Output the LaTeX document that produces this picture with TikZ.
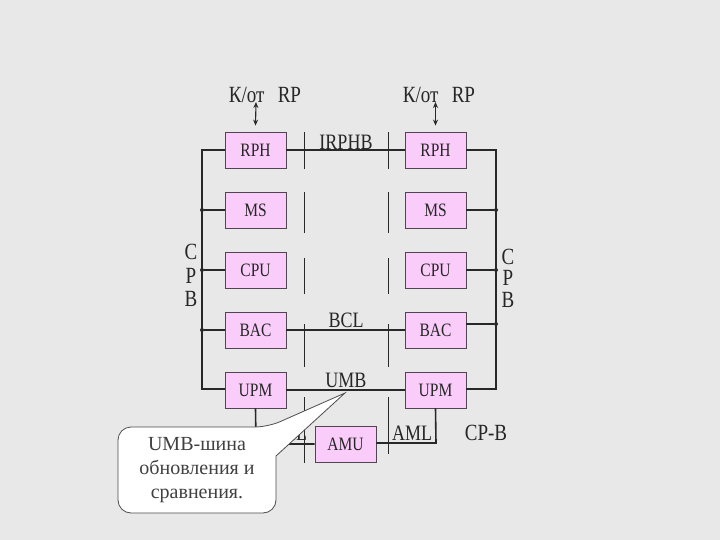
\documentclass[tikz,border=0pt]{standalone}
\usepackage{fontspec}
\usepackage{graphicx}
\setmainfont{Liberation Serif}
\usetikzlibrary{arrows.meta}
\definecolor{bg}{RGB}{232,232,232}
\definecolor{boxpink}{RGB}{250,204,250}
\definecolor{boxline}{RGB}{80,70,80}
\definecolor{busline}{RGB}{40,40,40}
\newcommand{\vtall}[1]{\scalebox{1}[1.22]{#1}}
\begin{document}
\begin{tikzpicture}[x=1pt,y=-1pt,
  unit/.style={draw=boxline, line width=0.8pt, fill=boxpink, minimum width=61pt, minimum height=36pt, inner sep=0pt, font=\fontsize{15.5}{17}\selectfont, text=black!85},
  bus/.style={draw=busline, line width=1.6pt},
  sep/.style={draw=busline, line width=0.9pt},
  lbl/.style={font=\fontsize{18}{20}\selectfont, text=black!85, inner sep=0pt},
  big/.style={font=\fontsize{19}{21}\selectfont, text=black!85, inner sep=0pt},
  note/.style={font=\fontsize{20}{22}\selectfont, text=black!75, inner sep=0pt},
  jdot/.style={circle, fill=busline, inner sep=0pt, minimum size=4pt},
  callout/.style={draw=black!70, line width=0.8pt, fill=white},
  dblarrow/.style={line width=1.1pt, busline, {Stealth[length=6pt,width=5pt]}-{Stealth[length=6pt,width=5pt]}}
]
\fill[bg] (0,0) rectangle (720,540);
\useasboundingbox (0,0) rectangle (720,540);

% units
\node[unit] (rph1) at (255.5,150) {\vtall{RPH}};
\node[unit] (ms1)  at (255.5,210) {\vtall{MS}};
\node[unit] (cpu1) at (255.5,270) {\vtall{CPU}};
\node[unit] (bac1) at (255.5,330) {\vtall{BAC}};
\node[unit] (upm1) at (255.5,390) {\vtall{UPM}};
\node[unit] (rph2) at (435.5,150) {\vtall{RPH}};
\node[unit] (ms2)  at (435.5,210) {\vtall{MS}};
\node[unit] (cpu2) at (435.5,270) {\vtall{CPU}};
\node[unit] (bac2) at (435.5,330) {\vtall{BAC}};
\node[unit] (upm2) at (435.5,390) {\vtall{UPM}};
\node[unit] (amu)  at (345.5,444) {\vtall{AMU}};

% bus corners and junctions
\coordinate (lt) at (202,150);
\coordinate (lb) at (202,389);
\coordinate (rt) at (496,150);
\coordinate (rb) at (496,389);
\node[jdot] (jl1) at (202,210) {};
\node[jdot] (jl2) at (202,270) {};
\node[jdot] (jl3) at (202,330) {};
\node[jdot] (jr1) at (496,210) {};
\node[jdot] (jr2) at (496,270) {};
\node[jdot] (jr3) at (496,324) {};
\coordinate (al) at (256,444);
\coordinate (ar) at (436,443);

% separators
\foreach \x in {304,388}{
  \draw[sep] (\x,132) -- (\x,169);
  \draw[sep] (\x,192) -- (\x,233);
  \draw[sep] (\x,258) -- (\x,294);
  \draw[sep] (\x,324) -- (\x,367);
}
\draw[sep] (304,397) -- (304,463);
\draw[sep] (388,397) -- (388,454);

% buses
\draw[bus] (rph1.west) -- (lt) -- (lb) -- (upm1.west |- lb);
\draw[bus] (rph2.east) -- (rt) -- (rb) -- (upm2.east |- rb);
\draw[bus] (jl1) -- (ms1.west);
\draw[bus] (jl2) -- (cpu1.west);
\draw[bus] (jl3) -- (bac1.west);
\draw[bus] (jr1) -- (ms2.east);
\draw[bus] (jr2) -- (cpu2.east);
\draw[bus] (jr3) -- (bac2.east |- jr3);
\draw[bus] (rph1.east) -- (rph2.west);
\draw[bus] (bac1.east) -- (bac2.west);
\draw[bus] (upm1.east) -- (upm2.west);
\draw[bus] (upm1.south) -- (al) -- (amu.west |- al);
\draw[bus] (upm2.south) -- (ar) -- (amu.east |- ar);

% top links
\coordinate (k1) at (256,102);
\coordinate (k2) at (435.5,102);
\draw[dblarrow] (k1) -- ([yshift=6pt]rph1.north);
\draw[dblarrow] (k2) -- ([yshift=6pt]rph2.north);

% labels
\node[big] (t1) at (265,95) {\vtall{К/от\hspace{0.7em}RP}};
\node[big] (t2) at (439,95) {\vtall{К/от\hspace{0.7em}RP}};
\node[lbl] (irphb) at (346,142) {\vtall{IRPHB}};
\node[lbl] (bcl) at (346,320) {\vtall{BCL}};
\node[lbl] (umb) at (346,380) {\vtall{UMB}};
\node[lbl] (aml1) at (287,433) {\vtall{AML}};
\node[lbl] (aml2) at (412,433) {\vtall{AML}};
\node[big] (cpb) at (486,433) {\vtall{CP-B}};
\node[big] (cl) at (191,252) {\vtall{C}};
\node[big] (pl) at (191,276) {\vtall{P}};
\node[big] (bl) at (191,299) {\vtall{B}};
\node[big] (cr) at (508,257) {\vtall{C}};
\node[big] (pr) at (508,278) {\vtall{P}};
\node[big] (br) at (508,300) {\vtall{B}};

% callout
\coordinate (tip) at (345,393);
\draw[callout] (276,456) [rounded corners=13pt] -- (276,513) -- (118,513) -- (118,427) -- (268,427) [sharp corners] -- (tip) -- cycle;
\node[note, anchor=base] (n1) at (197,450) {UMB-шина};
\node[note, anchor=base] (n2) at (197,474) {обновления и};
\node[note, anchor=base] (n3) at (197,498) {сравнения.};
\end{tikzpicture}
\end{document}
